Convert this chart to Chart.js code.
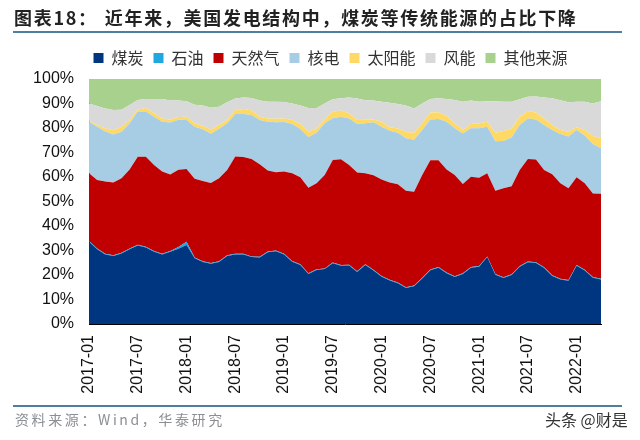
<!DOCTYPE html>
<html>
<head>
<meta charset="utf-8">
<script src="https://cdn.jsdelivr.net/npm/chart.js@4/dist/chart.umd.min.js"></script>
<style>
  html, body { margin: 0; padding: 0; background: #fff; }
  #wrap { position: relative; width: 640px; height: 440px; overflow: hidden; font-family: "Noto Sans CJK SC", sans-serif; }
  #myChart { position: absolute; left: 0; top: 0; }
  .rule { position: absolute; left: 13px; width: 609px; height: 2px; background: #4f7f9f; }
  .text { position: absolute; white-space: nowrap; }
  #title { left: 14px; top: 4px; font-size: 18px; font-weight: 700; color: #222; letter-spacing: 1.7px; line-height: 26px; }
  #title span { margin-left: 7px; }
  #source { left: 15px; top: 409px; font-size: 14px; color: #8a8f94; letter-spacing: 2.6px; line-height: 20px; }
  #mark { left: 545px; top: 408px; font-size: 16px; color: #333; line-height: 22px; }
</style>
</head>
<body>
<div id="wrap">
  <canvas id="myChart" width="640" height="440"></canvas>
  <div class="text" id="title">图表18&#xFF1A;<span>近年来&#xFF0C;美国发电结构中&#xFF0C;煤炭等传统能源的占比下降</span></div>
  <div class="rule" style="top:31px"></div>
  <div class="rule" style="top:405px"></div>
  <div class="text" id="source">资料来源&#xFF1A;Wind&#xFF0C;华泰研究</div>
  <div class="text" id="mark">头条 @财是</div>
</div>
<script>
// Months on the x axis
var categories = [
    '2017-01', '2017-02', '2017-03', '2017-04', '2017-05', '2017-06', '2017-07', '2017-08', '2017-09', '2017-10', '2017-11', '2017-12',
    '2018-01', '2018-02', '2018-03', '2018-04', '2018-05', '2018-06', '2018-07', '2018-08', '2018-09', '2018-10', '2018-11', '2018-12',
    '2019-01', '2019-02', '2019-03', '2019-04', '2019-05', '2019-06', '2019-07', '2019-08', '2019-09', '2019-10', '2019-11', '2019-12',
    '2020-01', '2020-02', '2020-03', '2020-04', '2020-05', '2020-06', '2020-07', '2020-08', '2020-09', '2020-10', '2020-11', '2020-12',
    '2021-01', '2021-02', '2021-03', '2021-04', '2021-05', '2021-06', '2021-07', '2021-08', '2021-09', '2021-10', '2021-11', '2021-12',
    '2022-01', '2022-02', '2022-03', '2022-04'
];

// Share of generation per source, in percent
var coal = [33.6, 30.5, 28.4, 27.8, 28.8, 30.5, 32, 31.2, 29.5, 28.4, 29.5, 30.7, 32.2, 26.8, 25.3, 24.6, 25.3, 27.8, 28.4, 28.4, 27.3, 27.1, 29.3, 29.7, 28.4, 25.4, 24.1, 20.4, 22, 22.4, 24.8, 23.8, 23.9, 21.2, 24.1, 21.8, 19.3, 17.8, 16.6, 14.7, 15.4, 18.6, 21.9, 23, 20.7, 19.2, 20.4, 23, 23.4, 27.3, 20.1, 18.8, 20, 23.4, 25.2, 24.9, 22.9, 19.6, 18.2, 17.7, 23.8, 21.8, 18.9, 18.2];
var oil = [0.3, 0.3, 0.3, 0.3, 0.3, 0.3, 0.3, 0.3, 0.3, 0.3, 0.3, 0.7, 1.4, 0.3, 0.3, 0.3, 0.3, 0.3, 0.3, 0.3, 0.3, 0.3, 0.3, 0.3, 0.3, 0.3, 0.3, 0.3, 0.3, 0.3, 0.3, 0.3, 0.3, 0.3, 0.3, 0.3, 0.3, 0.3, 0.3, 0.3, 0.3, 0.3, 0.3, 0.3, 0.3, 0.3, 0.3, 0.3, 0.3, 0.3, 0.3, 0.3, 0.3, 0.3, 0.3, 0.3, 0.3, 0.3, 0.3, 0.3, 0.3, 0.3, 0.3, 0.3];
var gas = [27.6, 28, 29.5, 29.7, 30.4, 32.3, 36, 36.8, 35.1, 33.5, 31.2, 31.6, 29.7, 32.2, 32.8, 32.7, 33.9, 34.8, 39.7, 39.5, 39.7, 37.8, 33.1, 31.9, 33.5, 35.8, 35.5, 34.9, 35.1, 38.1, 41.8, 43.1, 40.7, 40.3, 37.1, 38.6, 39.4, 39.7, 40.1, 39.4, 38.3, 41.9, 44.6, 43.5, 42.1, 41.3, 36.4, 36.8, 36, 33.9, 34, 36.3, 35.9, 39.2, 41.8, 41.9, 39.7, 41.2, 38.9, 37.4, 35.8, 35.3, 34.1, 34.7];
var nuclear = [21.1, 21.7, 20.4, 19.5, 19, 18.8, 18.4, 18.4, 19.7, 20.4, 21.2, 20.4, 20, 21.2, 21.1, 20.1, 20.2, 19, 17.3, 17.5, 18, 18.1, 19.9, 20.4, 20.2, 20.1, 19.7, 20.7, 20.7, 21.1, 17.1, 17.4, 19, 19.8, 20.4, 21.6, 21.5, 21.1, 21.1, 21.4, 21.2, 18.4, 16.7, 16.9, 19.5, 19.1, 20.7, 19.8, 20.2, 19, 20.2, 19.3, 19.9, 18.3, 16.6, 16.4, 18.3, 18.1, 20.2, 21.1, 19.3, 19.5, 20.2, 18.5];
var solar = [0.4, 0.7, 1.2, 1.8, 2, 1.4, 0.9, 1.5, 1.4, 1.3, 1.3, 1.1, 1.3, 1.4, 1.3, 1.7, 1.5, 1.4, 1.6, 2.1, 1.9, 1.3, 1.3, 1.5, 1.5, 1.7, 2, 2.2, 1.7, 1.5, 2.7, 2.5, 2.1, 1.7, 1.5, 1.2, 2.1, 1.4, 1.7, 2.6, 2.9, 2.7, 2.8, 2.7, 2.3, 2, 1.4, 1.7, 2, 2.1, 3.5, 4.1, 3.7, 3.4, 3, 2.8, 2.7, 2, 1.6, 2, 1.1, 2.3, 3.2, 4.1];
var wind = [7, 7.8, 8.2, 8.2, 7, 6.1, 3.8, 3.6, 5.8, 7.9, 7.7, 6.7, 6.3, 7.6, 8.4, 8.9, 7.5, 7.2, 4.7, 4.6, 5, 6.6, 6.8, 6.9, 6.7, 6.7, 7.6, 9.7, 8.4, 6.6, 5, 5, 6.5, 8.7, 7.9, 7.7, 8.1, 10, 10, 10.8, 9.9, 8.1, 5.5, 5.7, 6.9, 9.5, 11.5, 9.6, 8.8, 8.3, 12.8, 11.9, 10.9, 7.1, 5.9, 6.6, 8.6, 10.9, 12.1, 12, 10.4, 11.5, 13.3, 15.1];
var other = [10, 11, 12, 12.7, 12.5, 10.6, 8.6, 8.2, 8.2, 8.2, 8.8, 8.8, 9.1, 10.5, 10.8, 11.7, 11.3, 9.5, 8, 7.6, 7.8, 8.8, 9.3, 9.3, 9.4, 10, 10.8, 11.8, 11.8, 10, 8.3, 7.9, 7.5, 8, 8.7, 8.8, 9.3, 9.7, 10.2, 10.8, 12, 10, 8.2, 7.9, 8.2, 8.6, 9.3, 8.8, 9.3, 9.1, 9.1, 9.3, 9.3, 8.3, 7.2, 7.1, 7.5, 7.9, 8.7, 9.5, 9.3, 9.3, 10, 9.1];

// Build one filled band of the stack
function band(label, data, color, fill) {
    return {
        label: label,
        data: data,
        backgroundColor: color,
        borderColor: color,
        borderWidth: 0,
        pointRadius: 0,
        tension: 0,
        fill: fill
    };
}

// The legend sits up and to the right of where the layout puts it
var legendShift = {
    id: 'legendShift',
    beforeDraw: function (chart) {
        var legend = chart.legend;
        legend.left += 30;
        legend.right += 30;
        legend.top -= 3;
        legend.bottom -= 3;
    }
};

var ctx = document.getElementById('myChart').getContext('2d');
var myChart = new Chart(ctx, {
    type: 'line',
    data: {
        labels: categories,
        datasets: [
            band('煤炭', coal, '#003580', 'origin'),
            band('石油', oil, '#1fa7e0', '-1'),
            band('天然气', gas, '#c00000', '-1'),
            band('核电', nuclear, '#a6cde3', '-1'),
            band('太阳能', solar, '#ffd966', '-1'),
            band('风能', wind, '#d9d9d9', '-1'),
            band('其他来源', other, '#a9d18e', '-1')
        ]
    },
    plugins: [legendShift],
    options: {
        responsive: false,
        animation: false,
        devicePixelRatio: 1,
        layout: { padding: { left: 0, right: 39, top: 43, bottom: 0 } },
        plugins: {
            tooltip: { enabled: false },
            legend: {
                position: 'top',
                labels: {
                    boxWidth: 10,
                    boxHeight: 10,
                    padding: 10,
                    color: '#333',
                    font: { family: '"Noto Sans CJK SC"', size: 16 }
                }
            }
        },
        scales: {
            x: {
                offset: false,
                afterFit: function (scale) { scale.height = 116; },
                grid: { display: false, drawTicks: true, tickLength: 5, tickColor: '#000' },
                border: { color: '#000', width: 1 },
                ticks: {
                    autoSkip: false,
                    maxRotation: 90,
                    minRotation: 90,
                    padding: 6,
                    color: '#111',
                    font: { family: '"Liberation Sans"', size: 16 },
                    callback: function (value, index) {
                        return index % 6 === 0 ? categories[index] : '';
                    }
                }
            },
            y: {
                stacked: true,
                min: 0,
                max: 100,
                afterFit: function (scale) { scale.width = 89; },
                grid: { display: false, drawTicks: true, tickLength: 5, tickColor: '#000' },
                border: { color: '#000', width: 1 },
                ticks: {
                    stepSize: 10,
                    padding: 10,
                    color: '#111',
                    font: { family: '"Liberation Sans"', size: 16 },
                    callback: function (value) { return value + '%'; }
                }
            }
        }
    }
});
</script>
</body>
</html>
